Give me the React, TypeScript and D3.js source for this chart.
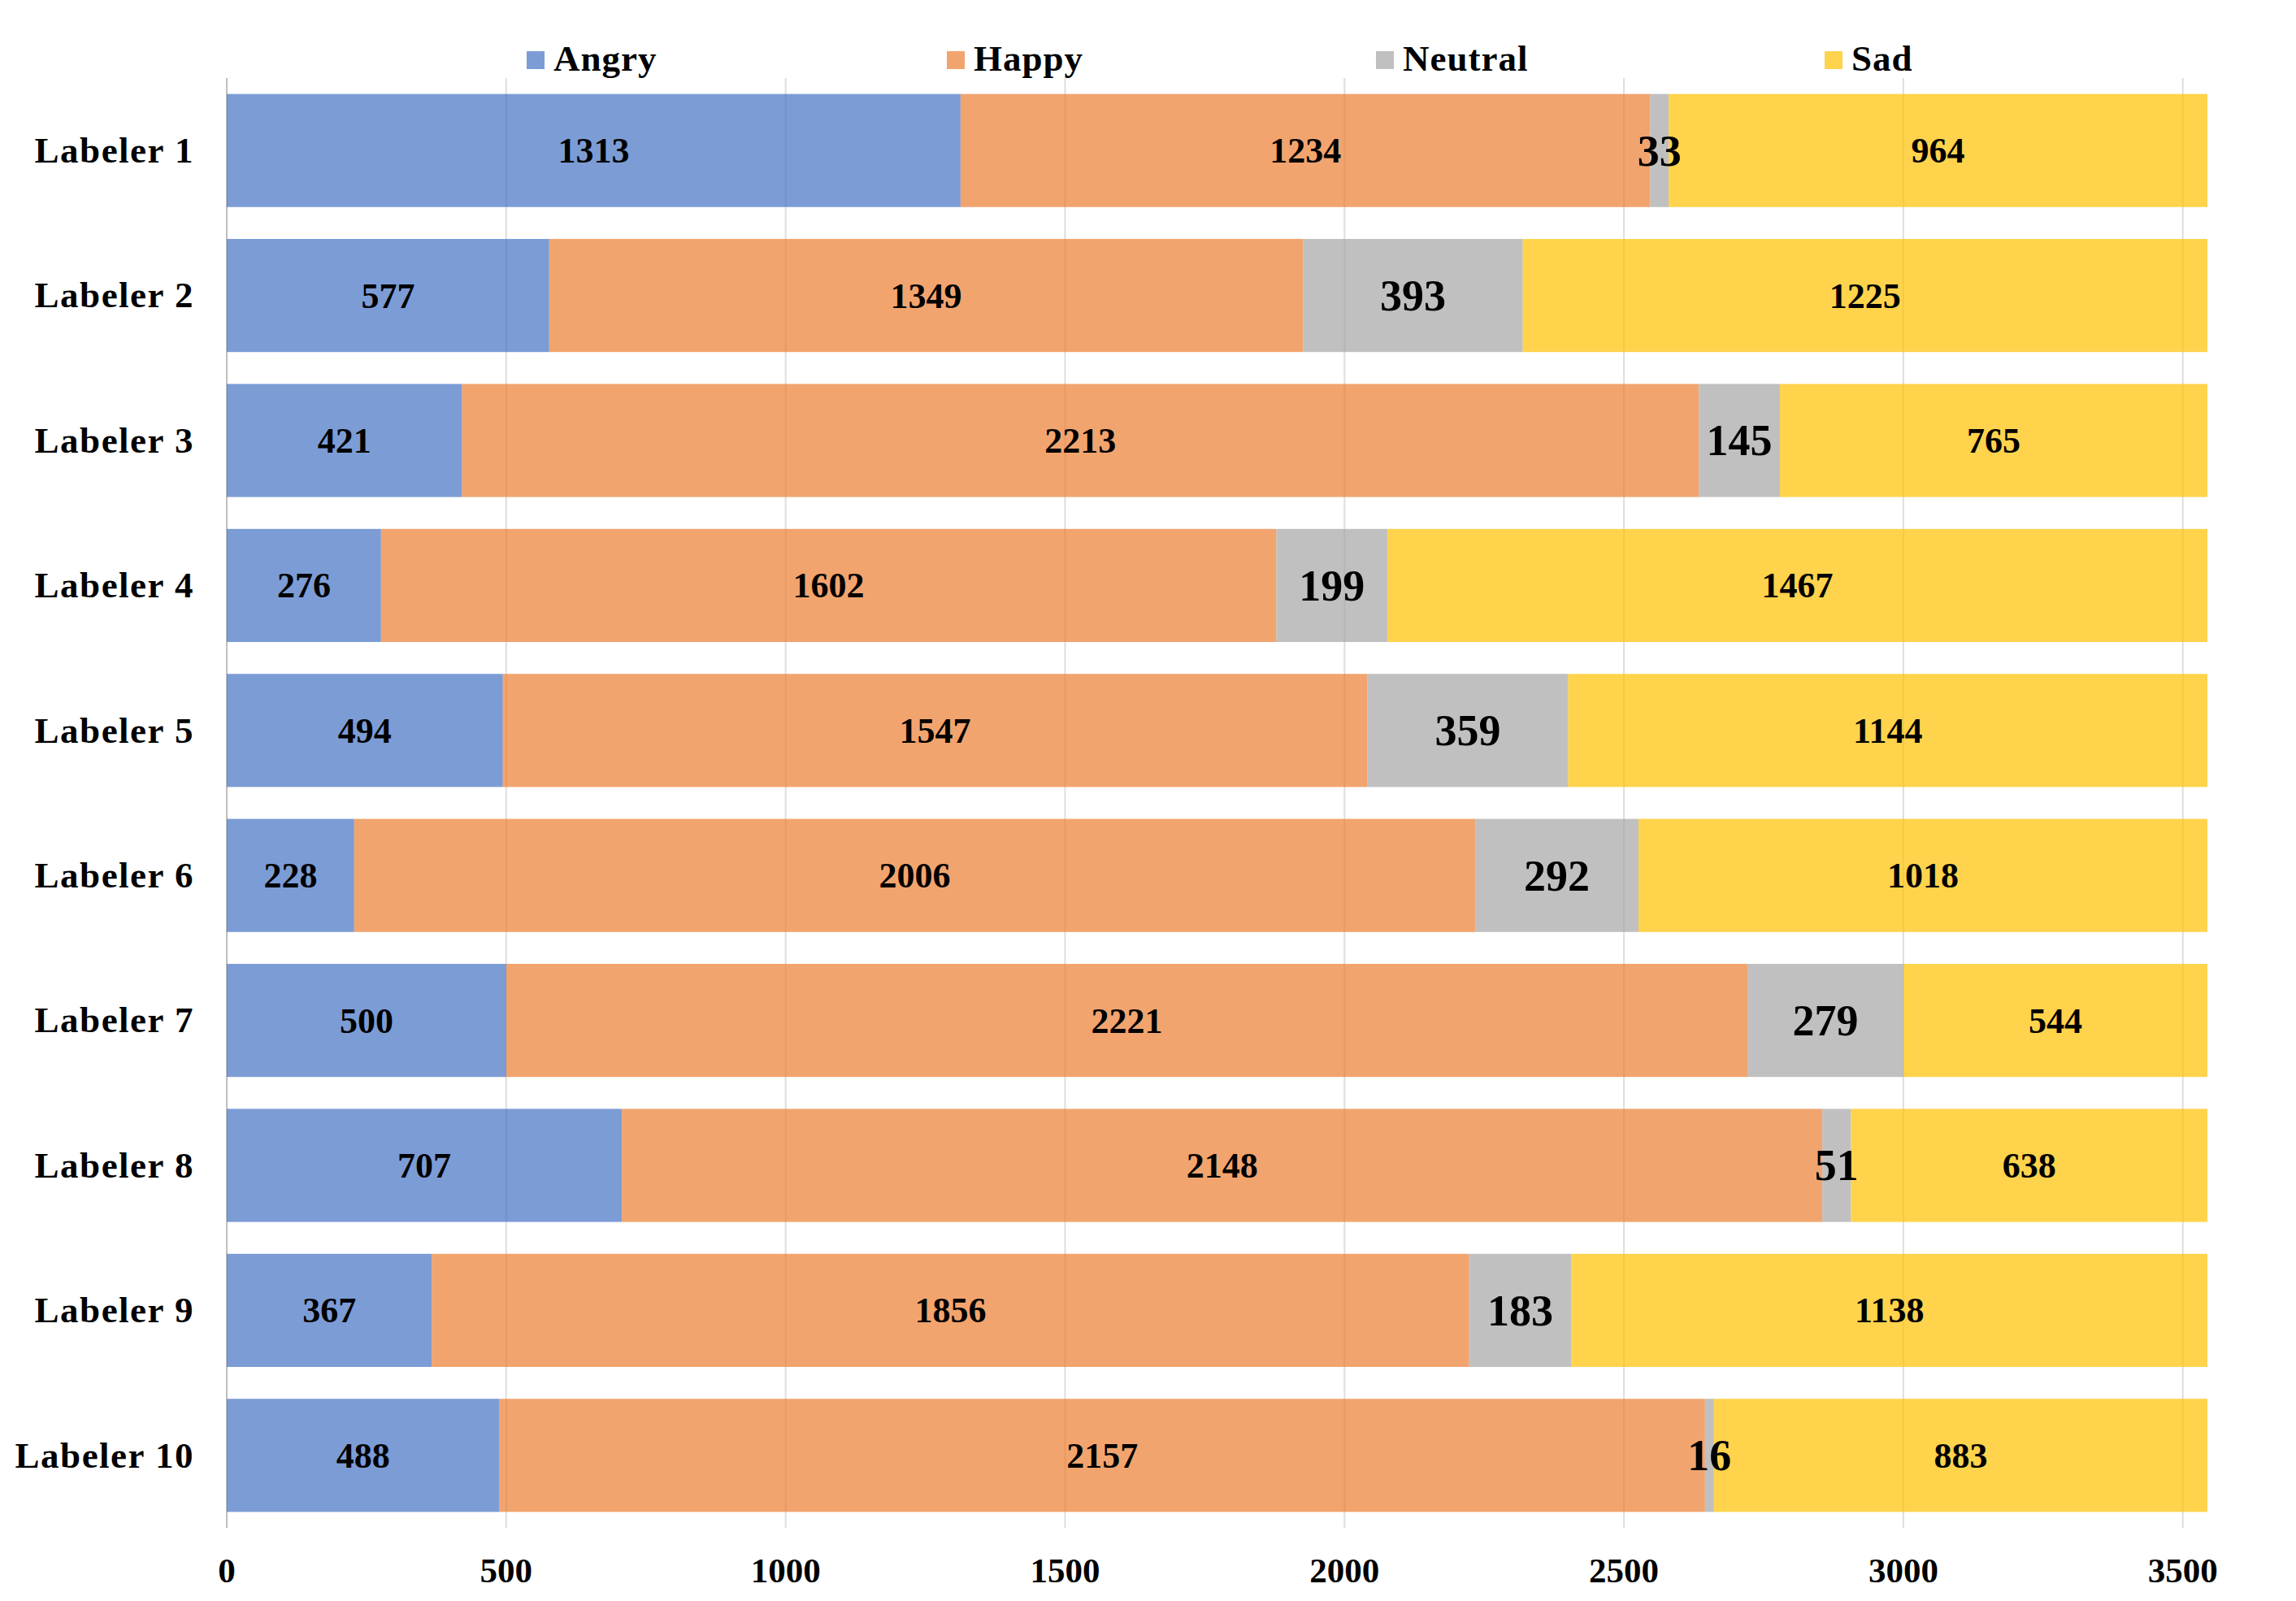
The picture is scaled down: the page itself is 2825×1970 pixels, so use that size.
import React from "react";
import * as d3 from "d3";

const labelers = ["Labeler 1","Labeler 2","Labeler 3","Labeler 4","Labeler 5","Labeler 6","Labeler 7","Labeler 8","Labeler 9","Labeler 10"];
const emotions = ["Angry","Happy","Neutral","Sad"];
const angry = [1313,577,421,276,494,228,500,707,367,488];
const happy = [1234,1349,2213,1602,1547,2006,2221,2148,1856,2157];
const neutral = [33,393,145,199,359,292,279,51,183,16];
const sad = [964,1225,765,1467,1144,1018,544,638,1138,883];
const xTicks = [0,500,1000,1500,2000,2500,3000,3500];
const colors = ["#4472C4","#ED7D31","#A5A5A5","#FFC000"];

const W = 2825, H = 1970;
const FONT = "'Liberation Serif', 'Times New Roman', serif";

export default function App() {
  const series = [angry, happy, neutral, sad];
  const rows = labelers.map((l, i) => {
    const r: any = { labeler: l };
    emotions.forEach((e, k) => (r[e] = series[k][i]));
    return r;
  });
  const stacked = d3.stack().keys(emotions)(rows);
  const total = d3.max(rows, (r: any) => emotions.reduce((s, e) => s + r[e], 0)) as number;

  const x = d3.scaleLinear().domain([0, total]).range([279, 2716]);
  const y = d3.scaleBand().domain(labelers).range([96, 1880]).paddingInner(0.22).paddingOuter(0.11);
  const color = d3.scaleOrdinal<string, string>().domain(emotions).range(colors);
  const legendX = [648, 1165, 1693, 2245];

  return (
    <svg width={W} height={H} style={{ position: "absolute", left: 0, top: 0, display: "block", background: "#fff" }} fontFamily={FONT}>
      {/* gridlines */}
      {xTicks.map((t) => (
        <line key={t} x1={x(t)} x2={x(t)} y1={96} y2={1880} stroke={t === 0 ? "#bfbfbf" : "#dedede"} strokeWidth={2} />
      ))}
      {/* bars */}
      {stacked.map((s, k) => (
        <g key={s.key} fill={color(s.key)} fillOpacity={0.7}>
          {s.map((d: any, i: number) => (
            <rect key={i} x={x(d[0])} y={y(labelers[i])} width={x(d[1]) - x(d[0])} height={y.bandwidth()} />
          ))}
        </g>
      ))}
      {/* value labels */}
      {stacked.map((s, k) => (
        <g key={"l" + s.key}>
          {s.map((d: any, i: number) => {
            const big = s.key === "Neutral";
            return (
              <text key={i} x={(x(d[0]) + x(d[1])) / 2} y={(y(labelers[i]) as number) + y.bandwidth() / 2}
                dy="0.34em" textAnchor="middle" fontWeight="bold" fontSize={big ? 54 : 44} fill="#000">
                {series[k][i]}
              </text>
            );
          })}
        </g>
      ))}
      {/* y labels */}
      {labelers.map((l) => (
        <text key={l} x={239} y={(y(l) as number) + y.bandwidth() / 2} dy="0.33em" textAnchor="end"
          fontWeight="bold" fontSize={45} letterSpacing={1.5} fill="#000">{l}</text>
      ))}
      {/* x tick labels */}
      {xTicks.map((t) => (
        <text key={"t" + t} x={x(t)} y={1947} textAnchor="middle" fontWeight="bold" fontSize={43} fill="#000">{t}</text>
      ))}
      {/* legend */}
      {emotions.map((e, k) => (
        <g key={"lg" + e}>
          <rect x={legendX[k]} y={63} width={22} height={22} fill={color(e)} fillOpacity={0.7} />
          <text x={legendX[k] + 33} y={87} fontWeight="bold" fontSize={45} letterSpacing={1} fill="#000">{e}</text>
        </g>
      ))}
    </svg>
  );
}
